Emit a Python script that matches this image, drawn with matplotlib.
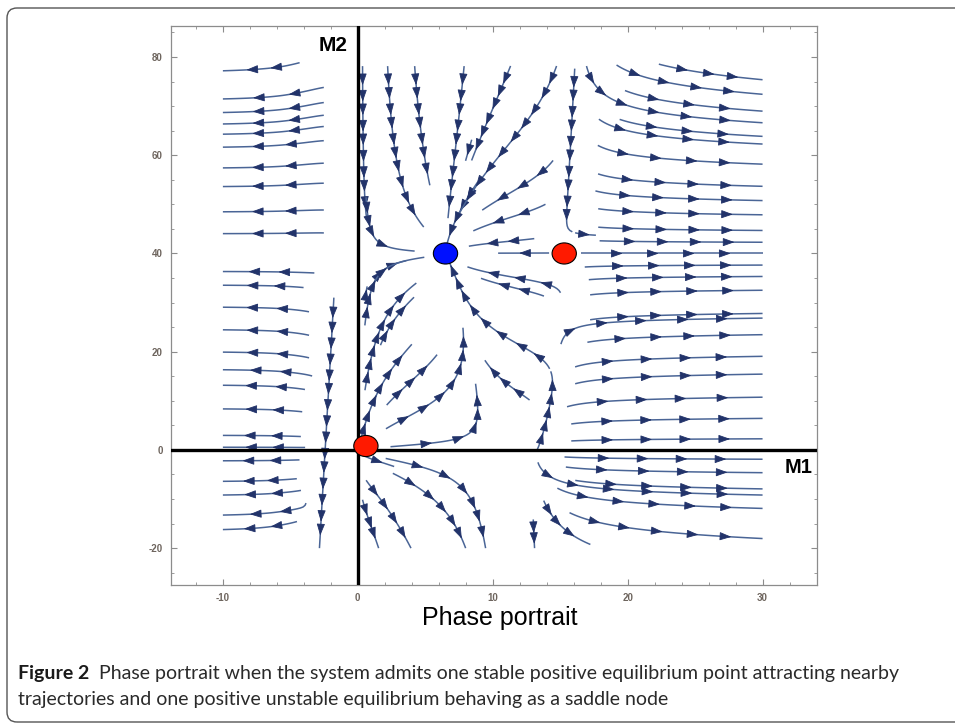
import numpy as np
import matplotlib
matplotlib.use("Agg")
import matplotlib.pyplot as plt
from matplotlib.patches import Ellipse, FancyBboxPatch, FancyArrowPatch
from matplotlib.transforms import IdentityTransform

plt.rcParams['axes.unicode_minus'] = False

# equilibria drawn as discs (M1, M2)
stable_eq = (6.5, 40.0)
saddle_eq = (15.3, 40.0)
origin_eq = (0.6, 0.8)

# model constants: M2 carrying level and the M1-nullcline branches
K2 = 40.0
left_branch = (-2.46, 0.022)          # M1 = c0 + c1 * M2
low_branch = (9.5, 6.5)               # at M2 = 0 and M2 >= 40
high_branch = (13.3, 15.3, 0.025)     # at M2 = 0, M2 = 40, slope above 40

# streamline seeds: (M1, M2, length in px), integrated forward in time
seeds_left = [(-4.1, 79.0, 100), (-2.3, 73.9, 125), (-2.3, 70.8, 125), (-2.3, 68.2, 125),
              (-2.3, 65.9, 125), (-2.3, 63.0, 125), (-2.3, 58.4, 125), (-2.3, 54.3, 125),
              (-2.3, 48.8, 125), (-2.3, 44.1, 125), (-3.0, 36.0, 125), (-3.8, 33.0, 115),
              (-3.4, 28.0, 115), (-3.4, 23.2, 115), (-3.4, 18.6, 115), (-3.3, 15.0, 115),
              (-3.7, 12.2, 115), (-3.9, 7.7, 115), (-4.0, 2.7, 115), (-3.7, 0.6, 115),
              (-4.1, -2.0, 115), (-4.3, -5.8, 115), (-4.0, -8.1, 115), (-3.8, -10.3, 115),
              (-4.3, -14.4, 115)]
seeds_axis = [(-1.77, 31.5, 270), (0.35, 78.7, 165), (0.6, 52.0, 90), (0.12, 1.2, 120),
              (0.25, -0.8, 35)]
seeds_top = [(2.2, 78.7, 180), (4.2, 78.7, 130), (7.9, 78.7, 165), (8.5, 63.7, 27),
             (9.0, 55.0, 75), (11.4, 78.7, 110), (14.8, 78.7, 185), (14.6, 59.4, 90),
             (14.1, 50.3, 80), (13.3, 43.1, 67), (14.4, 40.1, 52), (15.9, 44.4, 25),
             (15.1, 31.5, 100), (14.0, 31.1, 66)]
seeds_mid = [(1.0, 32.6, 66), (0.5, 30.0, 18), (0.5, 24.8, 90), (1.6, 20.8, 63),
             (0.5, 11.6, 130), (2.0, 8.7, 77), (1.9, 4.0, 145), (2.2, 0.6, 135),
             (12.9, 9.8, 65), (14.3, 16.0, 170)]
seeds_right = [(22.1, 78.7, 139), (19.0, 78.7, 193), (19.6, 73.4, 183), (16.9, 78.7, 260),
               (19.2, 67.5, 190), (17.7, 67.7, 216), (17.6, 62.3, 218), (17.6, 56.4, 218),
               (17.4, 52.9, 221), (17.6, 49.2, 218), (17.6, 45.4, 218), (17.7, 42.6, 216),
               (16.3, 40.0, 240), (16.6, 37.2, 235), (16.9, 34.6, 230), (17.0, 31.5, 228),
               (17.0, 26.4, 228), (16.8, 21.8, 232), (15.0, 21.0, 263), (15.9, 16.7, 247),
               (15.9, 13.3, 247), (15.3, 8.6, 258), (15.6, 5.2, 253), (15.6, 1.8, 253)]
seeds_bottom = [(15.1, -1.4, 261), (15.2, -3.4, 260), (15.9, -6.1, 247), (13.3, -2.0, 293),
                (14.6, -7.5, 270), (15.5, -12.5, 270), (13.7, -9.8, 70), (13.0, -13.6, 32),
                (1.85, -1.6, 210), (2.4, -4.5, 110), (0.5, -5.7, 150), (0.3, -9.6, 75)]
# traced back in time from the given point (separatrix pieces)
seeds_back = [(15.9, 44.4, 175), (14.3, 16.0, 90)]

line_color = '#4a6596'
head_color = '#22336a'
arrow_gap = 3.3   # data units of path between arrowheads


def sigmoid(z):
    return 1.0 / (1.0 + np.exp(-z))


def rates(m1, m2):
    n = left_branch[0] + left_branch[1] * m2
    yc = np.clip(m2, 0, K2)
    a = low_branch[0] - (low_branch[0] - low_branch[1]) * np.clip(m2, -20, K2) / K2
    b = (high_branch[0] + (high_branch[1] - high_branch[0]) * (1 - (1 - yc / K2) ** 2)
         + high_branch[2] * np.clip(m2 - K2, 0, None) - 0.03 * np.clip(-m2, 0, None))
    t = m1 - n
    wy = sigmoid((m2 - 37) / 1.5)
    near = np.exp(-(t / 0.6) ** 2)
    h = wy * np.abs(t) + (1 - wy) * t * (t + 0.5) / (1 + np.abs(t))
    # below the M1 axis trajectories leave the M2 axis faster
    kick = 1 + 3 * np.exp(-np.abs(m1)) * np.clip(-m2 / 3, 0, 1)
    du = 0.0034 * m1 * kick * h * (a - m1) * (b - m1)
    du = du / (1 + (np.clip(m1 - b, 0, None) / 8) ** 2)
    du = du - 25 * t * near * (1 - wy)

    grow = m2 * (1 - m2 / K2)
    pull = np.where(m2 < 38, 1.2, 0.8) * (m2 - 38)
    t0 = 0.5 * (1 - wy) + 1.4 * wy
    left_f = (0.3 * (1 - wy) + 0.15 * wy) * np.clip((-t - t0) / 3, 0, 1)
    side = sigmoid(t / 0.3)
    dv = near * pull + (1 - near) * grow * (left_f * (1 - side) + side)
    return du, dv


gx = np.linspace(-10, 30, 201)
gy = np.linspace(-20, 80, 201)
GX, GY = np.meshgrid(gx, gy)
U, V = rates(GX, GY)

fig = plt.figure(figsize=(9.55, 7.24), dpi=100)
ax = fig.add_axes([0.179, 0.192, 0.676, 0.772])


def stream(x0, y0, length_px, direction='forward'):
    n0 = len(ax.patches)
    sp = ax.streamplot(gx, gy, U, V, start_points=[[x0, y0]], integration_direction=direction,
                       maxlength=length_px / 515.0, minlength=0.001, density=6,
                       broken_streamlines=False, color=line_color, linewidth=1.1, zorder=2)
    # drop the single midpoint arrow, heads are spread along the path below
    for p in list(ax.patches)[n0:]:
        p.remove()
    segs = sp.lines.get_segments()
    if len(segs) == 0:
        return
    pts = np.vstack([np.asarray(segs[0])[:1]] + [np.asarray(s)[1:] for s in segs])
    if len(pts) < 3:
        return
    d = np.hypot(*np.diff(pts, axis=0).T)
    cum = np.concatenate([[0], np.cumsum(d)])
    n_arr = max(1, int(round(cum[-1] / arrow_gap)))
    for k in range(1, n_arr + 1):
        i = int(np.searchsorted(cum, cum[-1] * k / (n_arr + 1)))
        i = min(max(i, 1), len(pts) - 2)
        ax.add_patch(FancyArrowPatch(tuple(pts[i - 1]), tuple(pts[i + 1]),
                                     arrowstyle='-|>,head_length=0.45,head_width=0.16',
                                     mutation_scale=16, shrinkA=0, shrinkB=0,
                                     color=head_color, lw=0.6, zorder=2))


for group in (seeds_left, seeds_axis, seeds_top, seeds_mid, seeds_right, seeds_bottom):
    for x0, y0, L in group:
        stream(x0, y0, L)
for x0, y0, L in seeds_back:
    stream(x0, y0, L, 'backward')

ax.axhline(0, color='black', lw=2.4, zorder=3)
ax.axvline(0, color='black', lw=2.4, zorder=3)

for (cx, cy), fc in ((stable_eq, '#0010ff'), (saddle_eq, '#ff1a00'), (origin_eq, '#ff1a00')):
    ax.add_patch(Ellipse((cx, cy), 1.8, 4.3, facecolor=fc, edgecolor='black', lw=0.8, zorder=5))

ax.text(-1.85, 82.4, 'M2', ha='center', va='center', fontsize=15, fontweight='bold',
        family='Liberation Sans')
ax.text(32.7, -3.5, 'M1', ha='center', va='center', fontsize=14.5, fontweight='bold',
        family='Liberation Sans')

ax.set_xlim(-13.85, 34.0)
ax.set_ylim(-27.5, 86.3)
ax.set_xticks([-10, 0, 10, 20, 30])
ax.set_xticks(np.arange(-12, 35, 2), minor=True)
ax.set_yticks([-20, 0, 20, 40, 60, 80])
ax.set_yticks(np.arange(-25, 86, 5), minor=True)
ax.tick_params(which='both', direction='in', top=True, right=True, color='#8c8c8c',
               labelsize=7, labelcolor='#6e655e', pad=6)
ax.tick_params(which='major', length=4, width=0.8)
ax.tick_params(which='minor', length=2.5, width=0.6)
for lab in ax.get_xticklabels() + ax.get_yticklabels():
    lab.set_family('Liberation Sans')
    lab.set_fontweight('bold')
for sp in ax.spines.values():
    sp.set_color('#8c8c8c')
    sp.set_linewidth(0.9)

fig.text(500 / 955, 1 - 618 / 724, 'Phase portrait', ha='center', va='center',
         fontsize=18, family='Liberation Sans')

# caption
cap_y1 = 1 - 673 / 724
cap_y2 = 1 - 699 / 724
t1 = fig.text(18 / 955, cap_y1, 'Figure 2', ha='left', va='center', fontsize=14,
              family='Lato', fontweight='bold', color='#1a1a1a')
fig.canvas.draw()
w = t1.get_window_extent().width
fig.text((18 + w + 10) / 955, cap_y1,
         'Phase portrait when the system admits one stable positive equilibrium point attracting nearby',
         ha='left', va='center', fontsize=14, family='Lato', color='#2a2a2a')
fig.text(18 / 955, cap_y2,
         'trajectories and one positive unstable equilibrium behaving as a saddle node',
         ha='left', va='center', fontsize=14, family='Lato', color='#2a2a2a')

fig.add_artist(FancyBboxPatch((7, 2), 1000, 714, boxstyle='round,pad=0,rounding_size=10',
                              transform=IdentityTransform(), fill=False, ec='#555555', lw=1.0))

fig.savefig('out.png', dpi=100)
